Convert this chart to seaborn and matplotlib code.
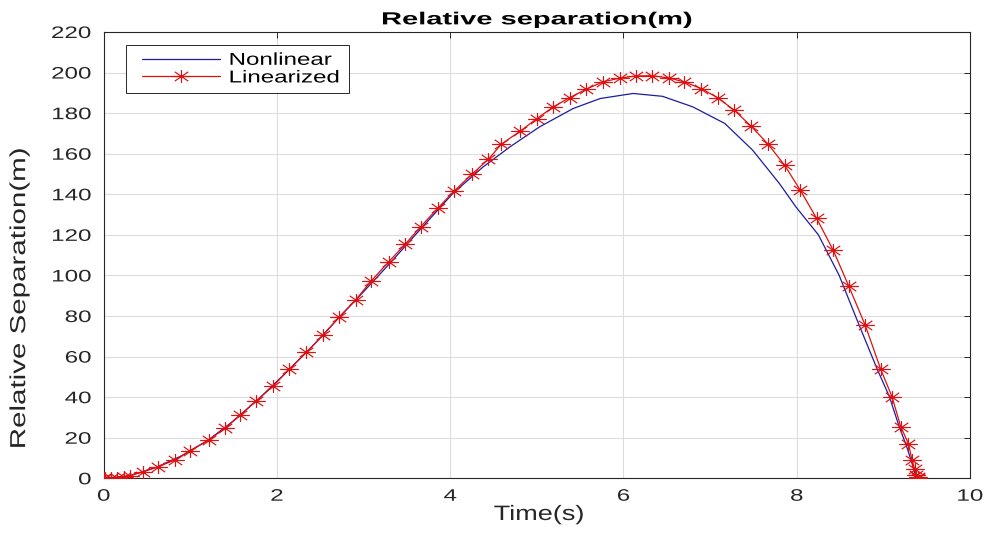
import numpy as np
import pandas as pd
import matplotlib
matplotlib.use("Agg")
import matplotlib.pyplot as plt
import seaborn as sns
from matplotlib.path import Path
from matplotlib.patheffects import AbstractPathEffect
from matplotlib.transforms import Affine2D
from matplotlib.lines import Line2D
from matplotlib.legend_handler import HandlerLine2D

# ---- data -------------------------------------------------------------
t_nonlinear = [0, 0.3, 0.6, 0.9, 1.2, 1.5, 1.8, 2.1, 2.4, 2.7, 3.0, 3.3, 3.65,
               4.03, 4.38, 4.69, 5.03, 5.42, 5.73, 6.11, 6.45, 6.80, 7.17, 7.49,
               7.80, 7.99, 8.25, 8.49, 8.72, 8.93, 9.07, 9.18, 9.27, 9.33, 9.38]
sep_nonlinear = [0, 1.3, 5.3, 11.1, 18.6, 28.4, 39.6, 51.9, 64.7, 78.5, 92.0,
                 105.8, 122.5, 140.4, 153.5, 163.4, 173.2, 182.3, 187.2, 189.7,
                 188.3, 183.1, 174.9, 161.8, 145.3, 133.8, 120.0, 100.0, 75.5,
                 53.7, 40.2, 25.8, 15.5, 7.5, 0]

t_linearized = [0, 0.02, 0.08, 0.15, 0.23, 0.30, 0.45, 0.63, 0.82, 1.00,
                1.21, 1.40, 1.57, 1.76, 1.96, 2.14, 2.34, 2.53, 2.72, 2.91,
                3.09, 3.29, 3.48, 3.66, 3.86, 4.04, 4.25, 4.44, 4.59, 4.81,
                5.00, 5.19, 5.38, 5.57, 5.76, 5.96, 6.14, 6.33, 6.53, 6.70,
                6.90, 7.09, 7.28, 7.47, 7.67, 7.86, 8.04, 8.23, 8.42, 8.60,
                8.79, 8.97, 9.10, 9.20, 9.29, 9.33, 9.36, 9.38, 9.395, 9.40]
sep_linearized = [0, 0.0, 0.1, 0.3, 0.7, 1.3, 3.1, 5.7, 9.0, 13.7,
                  18.9, 24.6, 31.0, 38.1, 45.6, 53.7, 62.1, 70.4, 79.6, 88.0,
                  97.4, 106.7, 115.4, 124.1, 133.3, 141.4, 149.9, 157.2, 164.7, 171.2,
                  177.3, 183.1, 187.7, 191.8, 195.4, 197.3, 198.3, 198.5, 197.3, 195.4,
                  192.1, 187.5, 181.4, 173.7, 164.7, 154.3, 142.1, 128.1, 112.5, 94.8,
                  75.5, 53.7, 40.2, 25.5, 17.0, 9.2, 4.8, 1.6, 0.5, 0]

series_names = ["Nonlinear", "Linearized"]
x_ticks = [0, 2, 4, 6, 8, 10]
y_ticks = [0, 20, 40, 60, 80, 100, 120, 140, 160, 180, 200, 220]

title_text = "Relative separation(m)"
x_label = "Time(s)"
y_label = "Relative Separation(m)"


class GlyphStretch(AbstractPathEffect):
    """Scale the glyph outlines of a text along its own axes about an anchor."""

    def __init__(self, sx=1.0, sy=1.0, anchor=0.5):
        super().__init__()
        self.sx, self.sy, self.anchor = sx, sy, anchor

    def draw_path(self, renderer, gc, tpath, affine, rgbFace=None):
        ext = tpath.get_extents()
        cx = ext.x0 + self.anchor * (ext.x1 - ext.x0)
        cy = 0.5 * (ext.y0 + ext.y1)
        pre = Affine2D().translate(-cx, -cy).scale(self.sx, self.sy).translate(cx, cy)
        renderer.draw_path(gc, tpath, pre + affine, rgbFace)


sns.set_theme(style="whitegrid")
plt.rcParams["font.family"] = ["Liberation Sans", "DejaVu Sans"]

W, H = 989, 540
fig = plt.figure(figsize=(W / 100, H / 100), dpi=100)
fig.patch.set_facecolor("white")
ax_l, ax_r, ax_t, ax_b = 103.7, 970.0, 32.0, 478.3
ax_w, ax_h = ax_r - ax_l, ax_b - ax_t
ax = fig.add_axes([ax_l / W, 1 - ax_b / H, ax_w / W, ax_h / H])
ax.set_facecolor("white")

blue = "#1c1ca0"
red = "#e01010"
ink = "#262626"

# wide eight-armed asterisk marker
d = 0.72
sx_m = 1.45
star_verts = [(-sx_m, 0), (sx_m, 0), (0, -1), (0, 1),
              (-d * sx_m, -d), (d * sx_m, d), (-d * sx_m, d), (d * sx_m, -d)]
star_codes = [Path.MOVETO, Path.LINETO] * 4
star = Path(star_verts, star_codes)

df_nl = pd.DataFrame({"Time": t_nonlinear, "Separation": sep_nonlinear})
df_li = pd.DataFrame({"Time": t_linearized, "Separation": sep_linearized})

sns.lineplot(data=df_nl, x="Time", y="Separation", ax=ax, color=blue,
             linewidth=0.9, sort=False, estimator=None, label=series_names[0],
             zorder=3)
sns.lineplot(data=df_li, x="Time", y="Separation", ax=ax, color=red,
             linewidth=0.9, sort=False, estimator=None, label=series_names[1],
             marker=star, markersize=13.5, markeredgewidth=0.85,
             markeredgecolor=red, markerfacecolor="none", zorder=4)

ax.set_xlim(0, 10)
ax.set_ylim(0, 220)
ax.set_xticks(x_ticks)
ax.set_yticks(y_ticks)
ax.set_xticklabels([str(v) for v in x_ticks])
ax.set_yticklabels([str(v) for v in y_ticks])

ax.grid(True, color="#dcdcdc", linewidth=0.8)
ax.set_axisbelow(True)
for s in ax.spines.values():
    s.set_visible(True)
    s.set_color(ink)
    s.set_linewidth(0.8)

ax.tick_params(axis="both", direction="in", length=4.5, width=0.7, color=ink,
               top=True, right=True, labelsize=12, labelcolor=ink)
ax.tick_params(axis="x", pad=7.5)
ax.tick_params(axis="y", pad=9.0)

for lab in ax.get_xticklabels():
    lab.set_path_effects([GlyphStretch(sx=1.45, anchor=0.5)])
for lab in ax.get_yticklabels():
    lab.set_path_effects([GlyphStretch(sx=1.45, anchor=1.0)])

ax.set_title(title_text, fontsize=12.6, fontweight="bold", color="black", pad=5.5)
ax.title.set_path_effects([GlyphStretch(sx=1.66, anchor=0.5)])

ax.set_xlabel(x_label, fontsize=15, color=ink)
ax.xaxis.set_label_coords((539 - ax_l) / ax_w, (ax_b - 505) / ax_h)
ax.xaxis.label.set_path_effects([GlyphStretch(sx=1.3, anchor=0.5)])

ax.set_ylabel(y_label, fontsize=12.5, color=ink)
ax.yaxis.set_label_coords((27.0 - ax_l) / ax_w, (ax_b - 298) / ax_h)
ax.yaxis.label.set_path_effects([GlyphStretch(sx=1.7, sy=1.25, anchor=0.5)])

fs_leg = 12.4
handles, labels = ax.get_legend_handles_labels()
leg = ax.legend(handles, labels, loc="upper left",
                bbox_to_anchor=(126 / W, 1 - 93 / H, 223 / W, 48 / H),
                bbox_transform=fig.transFigure, mode="expand", borderaxespad=0,
                fontsize=fs_leg, frameon=True, fancybox=False, framealpha=1,
                edgecolor=ink, borderpad=0.45, labelspacing=0.15,
                handlelength=5.02, handletextpad=0.52,
                handler_map={Line2D: HandlerLine2D(xpad=0.47)})
leg.get_frame().set_linewidth(0.7)
for txt in leg.get_texts():
    txt.set_color("black")
    txt.set_path_effects([GlyphStretch(sx=1.4, anchor=0.0)])

fig.savefig("out.png", dpi=100)
